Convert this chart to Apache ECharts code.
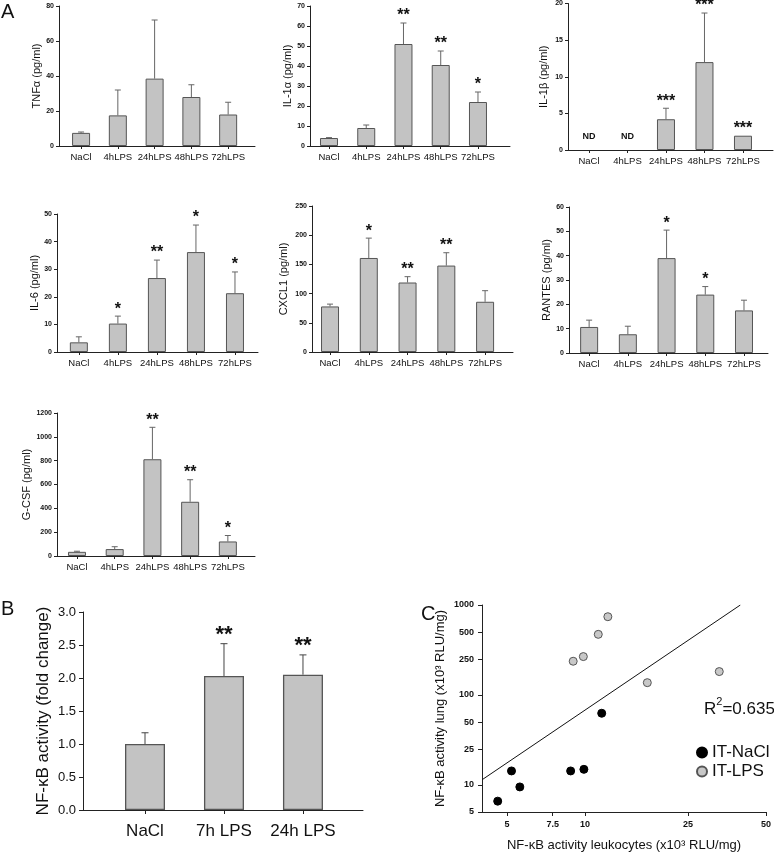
<!DOCTYPE html>
<html>
<head>
<meta charset="utf-8">
<script src="https://cdn.jsdelivr.net/npm/echarts@6/dist/echarts.min.js"></script>
<style>
  html, body { margin: 0; padding: 0; background: #fff; }
  #chart { width: 774px; height: 853px; }
</style>
</head>
<body>
<div id="chart"></div>
<script>
const FONT = '"Liberation Sans", Arial, Helvetica, sans-serif';

// ---- panel A: cytokines (mean, top of error bar, significance) ----
const timeGroups = ['NaCl', '4hLPS', '24hLPS', '48hLPS', '72hLPS'];

const tnfMean = [7.5, 17.5, 38.5, 28, 18];
const tnfUpper = [8, 32, 72, 35, 25];
const tnfStars = ['', '', '', '', ''];

const il1aMean = [4, 9, 51, 40.5, 22];
const il1aUpper = [4.2, 10.5, 61.5, 47.5, 27];
const il1aStars = ['', '', '**', '**', '*'];

const il1bMean = [null, null, 4.2, 12, 1.95];   // null = ND
const il1bUpper = [null, null, 5.7, 18.7, null];
const il1bStars = ['', '', '***', '***', '***'];

const il6Mean = [3.5, 10.3, 26.8, 36.2, 21.3];
const il6Upper = [5.5, 13, 33.3, 46, 29];
const il6Stars = ['', '*', '**', '*', '*'];

const cxcl1Mean = [78, 161, 119, 148, 86];
const cxcl1Upper = [82, 195, 129, 170, 105];
const cxcl1Stars = ['', '*', '**', '**', ''];

const rantesMean = [10.7, 7.7, 39, 24, 17.5];
const rantesUpper = [13.5, 11, 50.5, 27.3, 21.7];
const rantesStars = ['', '', '*', '*', ''];

const gcsfMean = [35, 58, 812, 455, 122];
const gcsfUpper = [40, 78, 1080, 640, 172];
const gcsfStars = ['', '', '**', '**', '*'];

// ---- panel B: NF-kB fold change ----
const nfkbGroups = ['NaCl', '7h LPS', '24h LPS'];
const nfkbMean = [1.0, 2.03, 2.05];
const nfkbUpper = [1.17, 2.52, 2.35];
const nfkbStars = ['', '**', '**'];

// ---- panel C: leukocytes vs lung ----
const naclLeuko = [4.6, 5.2, 5.6, 8.8, 9.9, 11.6];
const naclLung = [6.6, 14.3, 9.5, 14.3, 14.9, 62.6];
const lpsLeuko = [9.0, 9.85, 11.25, 12.25, 17.4, 33];
const lpsLung = [237, 267, 472, 741, 137, 182];
const fitLeuko = [4, 39.8];
const fitLung = [11.4, 1000];
const ticksX = [5, 7.5, 10, 25, 50];
const ticksY = [5, 10, 25, 50, 100, 250, 500, 1000];
const legendNames = ['IT-NaCl', 'IT-LPS'];

const chart = echarts.init(document.getElementById('chart'));

const grids = [];
const xAxes = [];
const yAxes = [];
const series = [];

// 柱状图 + 误差线 + 星号
function addBarPanel(p) {
  const idx = grids.length;
  const pos = p.groups.map((g, i) => i + 1);
  grids.push({ left: p.left, top: p.top, width: p.right - p.left, height: p.bottom - p.top });
  xAxes.push({
    gridIndex: idx, type: 'value', min: p.xMin, max: p.xMax,
    axisLine: { show: true, lineStyle: { color: '#222', width: 1 } },
    axisTick: { show: true, customValues: pos, length: p.tickLen, lineStyle: { color: '#222' } },
    axisLabel: {
      customValues: pos, margin: p.catMargin, fontSize: p.catSize, color: '#111', fontFamily: FONT,
      formatter: v => p.groups[Math.round(v) - 1]
    },
    splitLine: { show: false }
  });
  yAxes.push({
    gridIndex: idx, type: 'value', min: 0, max: p.max, interval: p.step,
    name: p.name, nameLocation: 'middle', nameGap: p.nameGap,
    nameTextStyle: { fontSize: p.nameSize, color: '#111', fontFamily: FONT },
    axisLine: { show: true, lineStyle: { color: '#222', width: 1 } },
    axisTick: { show: true, length: p.tickLen, lineStyle: { color: '#222' } },
    axisLabel: {
      fontSize: p.tickSize, fontWeight: p.tickWeight, color: '#111', fontFamily: FONT, margin: p.tickMargin,
      formatter: p.fmt || (v => String(v))
    },
    splitLine: { show: false }
  });
  series.push({
    type: 'bar', xAxisIndex: idx, yAxisIndex: idx, barWidth: p.barWidth,
    data: p.mean.map((v, i) => [i + 1, v]).filter(d => d[1] != null),
    itemStyle: { color: '#c3c3c3', borderColor: '#555', borderWidth: p.borderW },
    silent: true
  });
  series.push({
    type: 'custom', xAxisIndex: idx, yAxisIndex: idx, silent: true,
    data: p.mean.map((v, i) => [i + 1, v == null ? 0 : v, p.upper[i] != null ? p.upper[i] : (v == null ? 0 : v)]),
    encode: { x: 0, y: [1, 2] },
    renderItem: (params, api) => {
      const i = params.dataIndex;
      const x = api.value(0);
      const base = api.coord([x, api.value(1)]);
      const top = api.coord([x, api.value(2)]);
      const children = [];
      if (p.upper[i] != null) {
        children.push({ type: 'line', shape: { x1: base[0], y1: base[1], x2: top[0], y2: top[1] },
          style: { stroke: p.errColor, lineWidth: 1 } });
        children.push({ type: 'line', shape: { x1: top[0] - p.capW / 2, y1: top[1], x2: top[0] + p.capW / 2, y2: top[1] },
          style: { stroke: p.errColor, lineWidth: 1 } });
      }
      if (p.stars[i]) {
        children.push({ type: 'text', x: top[0], y: top[1] - p.starGap,
          style: { text: p.stars[i], fontSize: p.starSize, fontWeight: 'bold', fontFamily: FONT,
            fill: '#111', align: 'center', verticalAlign: 'middle' } });
      }
      if (p.mean[i] == null) {
        children.push({ type: 'text', x: base[0], y: base[1] - 13,
          style: { text: 'ND', fontSize: 9, fontWeight: 'bold', fontFamily: FONT,
            fill: '#111', align: 'center', verticalAlign: 'middle' } });
      }
      return { type: 'group', children };
    }
  });
}

const smallPanel = {
  groups: timeGroups, barWidth: 18, borderW: 1, capW: 6, errColor: '#666',
  starSize: 16, starGap: 7, tickLen: 3, catMargin: 6, catSize: 9.5, nameSize: 11,
  tickSize: 7, tickWeight: 'bold', tickMargin: 5
};

const panelsA = [
  { name: 'TNFα (pg/ml)', mean: tnfMean, upper: tnfUpper, stars: tnfStars, max: 80, step: 20,
    left: 59, top: 6, right: 255, bottom: 146, xMin: 0.4, xMax: 5.73, nameGap: 15 },
  { name: 'IL-1α (pg/ml)', mean: il1aMean, upper: il1aUpper, stars: il1aStars, max: 70, step: 10,
    left: 310, top: 6, right: 510, bottom: 146, xMin: 0.49, xMax: 5.86, nameGap: 16 },
  { name: 'IL-1β (pg/ml)', mean: il1bMean, upper: il1bUpper, stars: il1bStars, max: 20, step: 5,
    left: 568, top: 3, right: 773, bottom: 150, xMin: 0.455, xMax: 5.78, nameGap: 19 },
  { name: 'IL-6 (pg/ml)', mean: il6Mean, upper: il6Upper, stars: il6Stars, max: 50, step: 10,
    left: 57, top: 214, right: 258, bottom: 352, xMin: 0.44, xMax: 5.59, nameGap: 16 },
  { name: 'CXCL1 (pg/ml)', mean: cxcl1Mean, upper: cxcl1Upper, stars: cxcl1Stars, max: 250, step: 50,
    left: 312, top: 206, right: 513, bottom: 352, xMin: 0.535, xMax: 5.72, nameGap: 23 },
  { name: 'RANTES (pg/ml)', mean: rantesMean, upper: rantesUpper, stars: rantesStars, max: 60, step: 10,
    left: 569, top: 207, right: 768, bottom: 353, xMin: 0.48, xMax: 5.62, nameGap: 16 },
  { name: 'G-CSF (pg/ml)', mean: gcsfMean, upper: gcsfUpper, stars: gcsfStars, max: 1200, step: 200,
    left: 57, top: 413, right: 255, bottom: 556, xMin: 0.47, xMax: 5.72, nameGap: 23 }
];
panelsA.forEach(p => addBarPanel(Object.assign({}, smallPanel, p)));

addBarPanel({
  groups: nfkbGroups, name: 'NF-κB activity (fold change)', mean: nfkbMean, upper: nfkbUpper, stars: nfkbStars,
  max: 3, step: 0.5, left: 83, top: 612, right: 363, bottom: 810, xMin: 0.215, xMax: 3.76,
  barWidth: 40, borderW: 1.3, capW: 7, errColor: '#444', starSize: 22, starGap: 9,
  tickLen: 4, catMargin: 13, catSize: 17, nameSize: 17, nameGap: 31,
  tickSize: 13, tickWeight: 'normal', tickMargin: 7, fmt: v => v.toFixed(1)
});

// panel C 散点图
const cIdx = grids.length;
grids.push({ left: 482, top: 605, width: 288, height: 207 });
xAxes.push({
  gridIndex: cIdx, type: 'log', logBase: 10, min: 4, max: 50,
  name: 'NF-κB activity leukocytes (x10³ RLU/mg)', nameLocation: 'middle', nameGap: 27,
  nameTextStyle: { fontSize: 13, color: '#111', fontFamily: FONT },
  axisLine: { show: true, lineStyle: { color: '#222' } },
  axisTick: { show: true, customValues: ticksX, length: 4, lineStyle: { color: '#222' } },
  axisLabel: { customValues: ticksX, fontSize: 9, fontWeight: 'bold', color: '#111', fontFamily: FONT, margin: 8,
    formatter: v => String(v) },
  minorTick: { show: false }, splitLine: { show: false }
});
yAxes.push({
  gridIndex: cIdx, type: 'log', logBase: 10, min: 5, max: 1000,
  name: 'NF-κB activity lung (x10³ RLU/mg)', nameLocation: 'middle', nameGap: 35,
  nameTextStyle: { fontSize: 13, color: '#111', fontFamily: FONT },
  axisLine: { show: true, lineStyle: { color: '#222' } },
  axisTick: { show: true, customValues: ticksY, length: 4, lineStyle: { color: '#222' } },
  axisLabel: { customValues: ticksY, fontSize: 9, fontWeight: 'bold', color: '#111', fontFamily: FONT, margin: 8,
    formatter: v => String(v) },
  minorTick: { show: false }, splitLine: { show: false }
});
series.push({
  type: 'line', name: 'fit', xAxisIndex: cIdx, yAxisIndex: cIdx, symbol: 'none', silent: true,
  data: fitLeuko.map((v, i) => [v, fitLung[i]]),
  lineStyle: { color: '#111', width: 1 }
});
series.push({
  type: 'scatter', name: legendNames[0], xAxisIndex: cIdx, yAxisIndex: cIdx, symbolSize: 8,
  data: naclLeuko.map((v, i) => [v, naclLung[i]]),
  itemStyle: { color: '#000', borderColor: '#000', borderWidth: 1, opacity: 1 }
});
series.push({
  type: 'scatter', name: legendNames[1], xAxisIndex: cIdx, yAxisIndex: cIdx, symbolSize: 8,
  data: lpsLeuko.map((v, i) => [v, lpsLung[i]]),
  itemStyle: { color: '#c8c8c8', borderColor: '#555', borderWidth: 1, opacity: 1 }
});

const option = {
  animation: false,
  backgroundColor: '#fff',
  grid: grids,
  xAxis: xAxes,
  yAxis: yAxes,
  series: series,
  legend: {
    data: legendNames, orient: 'vertical', left: 691, top: 739,
    icon: 'circle', itemWidth: 10, itemHeight: 10, itemGap: 2,
    textStyle: { fontSize: 17, color: '#111', fontFamily: FONT }
  },
  graphic: [
    { type: 'text', left: 1, top: 2, style: { text: 'A', fontSize: 20, fill: '#111', fontFamily: FONT } },
    { type: 'text', left: 1, top: 599, style: { text: 'B', fontSize: 20, fill: '#111', fontFamily: FONT } },
    { type: 'text', left: 421, top: 604, style: { text: 'C', fontSize: 20, fill: '#111', fontFamily: FONT } },
    {
      type: 'text', left: 704, top: 696,
      style: {
        text: '{b|R}{s|2}{b|=0.635}', fill: '#111', fontFamily: FONT,
        rich: {
          b: { fontSize: 17, verticalAlign: 'bottom', lineHeight: 22, fontFamily: FONT },
          s: { fontSize: 11, verticalAlign: 'top', lineHeight: 22, fontFamily: FONT }
        }
      }
    }
  ]
};

chart.setOption(option);
</script>
</body>
</html>
